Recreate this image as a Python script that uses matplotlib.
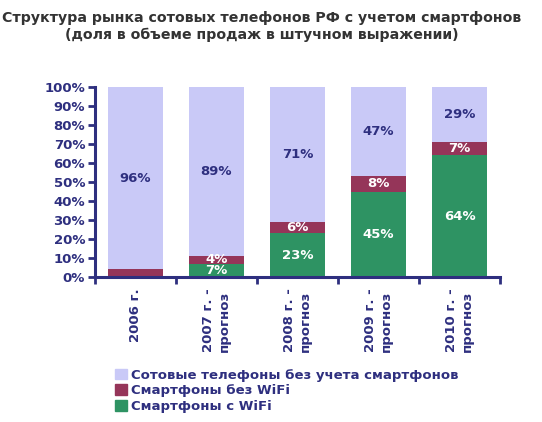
import matplotlib
matplotlib.use("Agg")
import matplotlib.pyplot as plt
from matplotlib.patches import Patch
import numpy as np

# данные
years = ["2006 г.", "2007 г. -\nпрогноз", "2008 г. -\nпрогноз", "2009 г. -\nпрогноз", "2010 г. -\nпрогноз"]
wifi = [0, 7, 23, 45, 64]
no_wifi = [4, 4, 6, 8, 7]
phones = [96, 89, 71, 47, 29]
series_names = ["Сотовые телефоны без учета смартфонов", "Смартфоны без WiFi", "Смартфоны с WiFi"]

C_LIGHT = "#c9c9f7"
C_MAG = "#953559"
C_GREEN = "#2e9363"
NAVY = "#2e2f7f"

plt.rcParams["font.family"] = ["DejaVu Sans"]

fig = plt.figure(figsize=(5.42, 4.22), dpi=100)
ax = fig.add_axes([0.175, 0.3436, 0.7475, 0.4502])

x = np.arange(len(years))
w = 0.67
bottom2 = np.array(wifi)
bottom3 = bottom2 + np.array(no_wifi)
ax.bar(x, wifi, w, color=C_GREEN)
ax.bar(x, no_wifi, w, bottom=bottom2, color=C_MAG)
ax.bar(x, phones, w, bottom=bottom3, color=C_LIGHT)

lbl = dict(ha="center", va="center", fontsize=9.5, fontweight="bold")
for i in range(len(years)):
    if wifi[i] > 0:
        ax.text(x[i], wifi[i] / 2, f"{wifi[i]}%", color="white", **lbl)
    if i > 0:
        ax.text(x[i], bottom2[i] + no_wifi[i] / 2, f"{no_wifi[i]}%", color="white", **lbl)
    ax.text(x[i], bottom3[i] + phones[i] / 2, f"{phones[i]}%", color=NAVY, **lbl)

ax.set_xlim(-0.5, len(years) - 0.5)
ax.set_ylim(0, 100)
ax.set_yticks(range(0, 101, 10))
ax.set_yticklabels([f"{v}%" for v in range(0, 101, 10)], fontsize=9.5,
                   fontweight="bold", color=NAVY)
ax.set_xticks(np.arange(-0.5, len(years)), minor=False)
ax.set_xticklabels([])
for i, lab in enumerate(years):
    ax.text(x[i], -6, lab, rotation=90, ha="center", va="top", fontsize=9.5,
            fontweight="bold", color=NAVY, multialignment="left",
            transform=ax.transData)

for s in ["top", "right"]:
    ax.spines[s].set_visible(False)
for s in ["left", "bottom"]:
    ax.spines[s].set_color(NAVY)
    ax.spines[s].set_linewidth(2.2)
ax.tick_params(axis="both", colors=NAVY, width=2, length=5)
ax.tick_params(axis="y", pad=2)

fig.text(0.483, 0.937, "Структура рынка сотовых телефонов РФ с учетом смартфонов\n"
         "(доля в объеме продаж в штучном выражении)",
         ha="center", va="center", fontsize=10.2, fontweight="bold", color="#333333",
         linespacing=1.25)

handles = [Patch(color=C_LIGHT), Patch(color=C_MAG), Patch(color=C_GREEN)]
leg = fig.legend(handles, series_names, loc="lower left", bbox_to_anchor=(0.2, 0.006),
                 frameon=False, handlelength=0.9, handleheight=0.9, handletextpad=0.3,
                 labelspacing=0.2, borderpad=0, prop={"size": 9.5, "weight": "bold"})
for t in leg.get_texts():
    t.set_color(NAVY)

fig.savefig("out.png", dpi=100)
